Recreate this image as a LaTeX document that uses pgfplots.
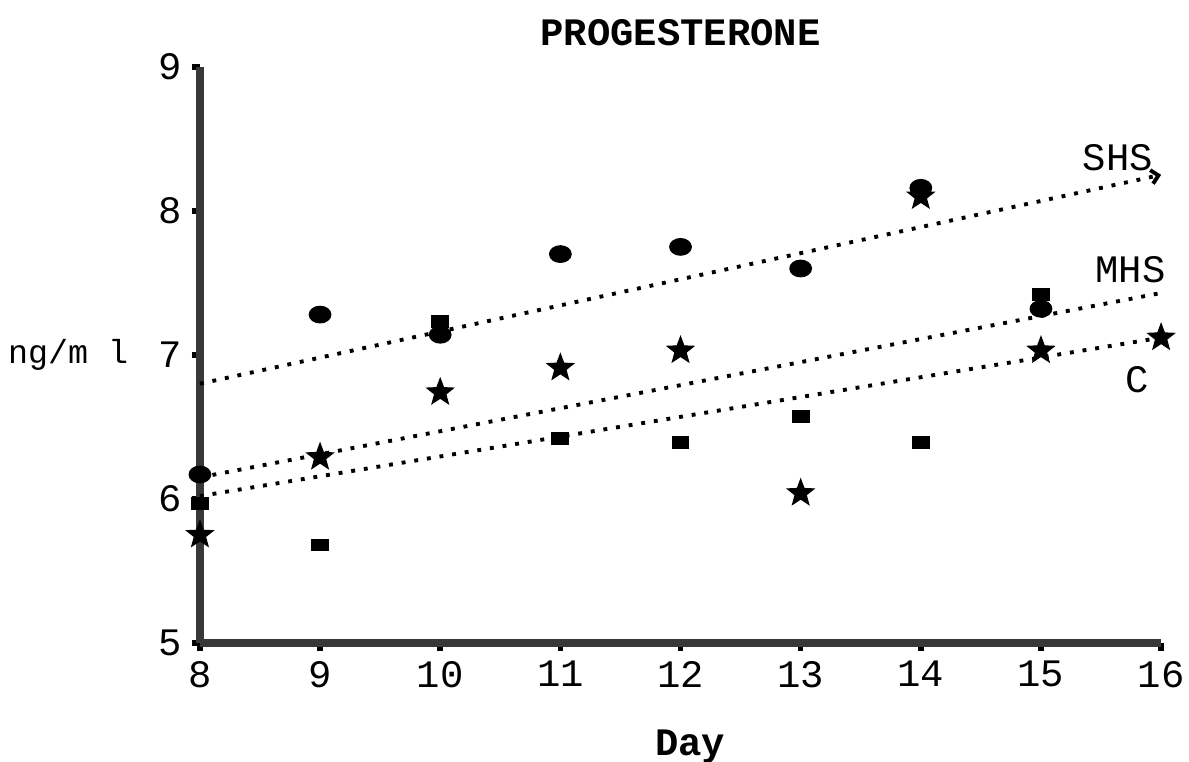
\documentclass[border=0pt]{standalone}
\usepackage{fontspec}
\setmainfont{Liberation Mono}
\usepackage{pgfplots}
\pgfplotsset{compat=1.18}
\usetikzlibrary{arrows.meta}

% filled five-pointed star mark
\pgfdeclareplotmark{fstar}{%
  \pgfpathmoveto{\pgfpointpolar{90}{\pgfplotmarksize}}%
  \pgfpathlineto{\pgfpointpolar{126}{0.42\pgfplotmarksize}}%
  \pgfpathlineto{\pgfpointpolar{162}{\pgfplotmarksize}}%
  \pgfpathlineto{\pgfpointpolar{198}{0.42\pgfplotmarksize}}%
  \pgfpathlineto{\pgfpointpolar{234}{\pgfplotmarksize}}%
  \pgfpathlineto{\pgfpointpolar{270}{0.42\pgfplotmarksize}}%
  \pgfpathlineto{\pgfpointpolar{306}{\pgfplotmarksize}}%
  \pgfpathlineto{\pgfpointpolar{342}{0.42\pgfplotmarksize}}%
  \pgfpathlineto{\pgfpointpolar{18}{\pgfplotmarksize}}%
  \pgfpathlineto{\pgfpointpolar{54}{0.42\pgfplotmarksize}}%
  \pgfpathclose
  \pgfusepathqfillstroke}

\begin{document}
\begin{tikzpicture}
\begin{axis}[
    scale only axis,
    width=346pt, height=207.4pt,
    xmin=8, xmax=16, ymin=5, ymax=9,
    axis x line=bottom, axis y line=left,
    axis line style={-, line width=3.1pt, black!78},
    xtick={8,...,16}, ytick={5,...,9},
    tick align=outside,
    major tick length=3pt,
    tick style={line width=2pt, black},
    /pgf/number format/assume math mode=true,
    tick label style={font=\fontsize{14}{16}\selectfont},
    title={\textbf{PROGESTERONE}},
    title style={at={(rel axis cs:0.5,1.03)}, anchor=center, font=\fontsize{14}{16}\selectfont},
    xlabel={\textbf{Day}},
    xlabel style={at={(rel axis cs:0.51,-0.18)}, anchor=center, font=\fontsize{14}{16}\selectfont},
    ylabel={ng/m l},
    ylabel style={rotate=-90, at={(rel axis cs:-0.137,0.5)}, anchor=center, font=\fontsize{12}{14}\selectfont},
    clip=false,
]
% regression lines
\addplot[black, line width=1.4pt, dash pattern=on 1.4pt off 3.2pt, -{Straight Barb[length=2.5pt]}]
  coordinates {(8,6.80) (16,8.25)};
\addplot[black, line width=1.4pt, dash pattern=on 1.4pt off 3.2pt]
  coordinates {(8,6.15) (16,7.43)};
\addplot[black, line width=1.4pt, dash pattern=on 1.4pt off 3.2pt]
  coordinates {(8,6.02) (16,7.12)};
% circles
\addplot[only marks, mark=*, mark size=3pt, mark options={black, xscale=1.3}]
  coordinates {(8,6.17) (9,7.28) (10,7.14) (11,7.70) (12,7.75) (13,7.60) (14,8.16) (15,7.32)};
% squares
\addplot[only marks, mark=square*, mark size=3pt, mark options={black, yscale=0.7}]
  coordinates {(8,5.97) (9,5.68) (10,7.23) (11,6.42) (12,6.39) (13,6.57) (14,6.39) (15,7.42)};
% stars
\addplot[only marks, mark=fstar, mark size=5pt, mark options={black}]
  coordinates {(8,5.75) (9,6.29) (10,6.74) (11,6.91) (12,7.03) (13,6.04) (14,8.10) (15,7.03) (16,7.12)};
\node[font=\fontsize{14}{16}\selectfont] at (rel axis cs:0.955,0.842) {SHS};
\node[font=\fontsize{14}{16}\selectfont] at (rel axis cs:0.968,0.648) {MHS};
\node[font=\fontsize{14}{16}\selectfont] at (rel axis cs:0.975,0.457) {C};
\coordinate (bl) at (rel axis cs:-0.208,-0.205);
\coordinate (tr) at (rel axis cs:1.029,1.116);
\end{axis}
\pgfresetboundingbox
\path[use as bounding box] (bl) rectangle (tr);
\end{tikzpicture}
\end{document}
